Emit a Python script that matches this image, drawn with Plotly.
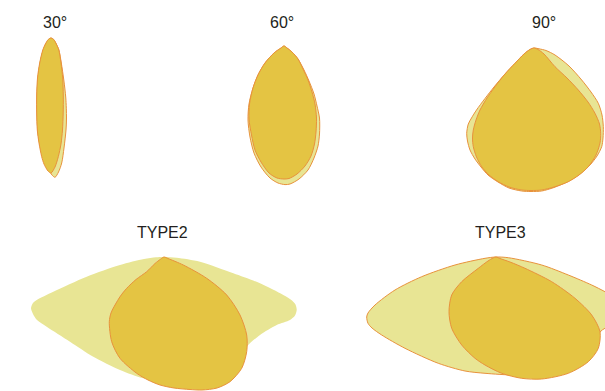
import plotly.graph_objects as go

# Beam outlines traced from the lamp point (apex) of each pattern.
# Units are screen pixels, x to the right, y downward.
titles = ["30°", "60°", "90°", "TYPE2", "TYPE3"]

beam30_pale = [(0, 0), (2.7, 1.5), (5.3, 6), (7.9, 12), (10.3, 25), (12.8, 42), (14.8, 60), (15.5, 80),
               (15, 92), (13, 110), (10.7, 125), (7.5, 134), (4, 139.3), (1, 137), (-2, 132), (-6, 124),
               (-10, 112), (-13, 95), (-14, 75), (-14, 55), (-12.5, 35), (-10, 20), (-6, 7), (-2, 1), (0, 0)]
beam30_gold = [(0, 0), (2.7, 1.5), (5.3, 6), (7.8, 12), (10, 25), (11.7, 40), (12.3, 58), (12.2, 75),
               (11.5, 92), (10, 106), (7.3, 118.7), (4, 129), (0, 135), (-3, 133), (-7, 126),
               (-9.3, 118.7), (-12, 105), (-13.7, 92), (-14.3, 75), (-14.3, 58), (-13.5, 40),
               (-11.3, 25), (-8.2, 12), (-5.5, 6), (-2.8, 1.5), (0, 0)]

beam60_pale = [(0, 0), (3, 2), (8, 6), (14, 13), (20, 24), (25, 35), (30, 48), (33, 60), (35.5, 72),
               (35.5, 88), (34, 100), (30, 112), (24, 124), (15, 133), (6, 138), (1, 138.6), (-6, 137),
               (-14, 132), (-23, 121), (-30, 107), (-34, 91), (-36, 74), (-35, 58), (-31, 42), (-26, 29),
               (-19, 17), (-10, 7), (-3, 2), (0, 0)]
beam60_gold = [(0, 0), (3, 2), (8, 6), (14, 13), (19, 23), (24, 34), (28, 46), (31, 58), (32.5, 72),
               (32, 86), (30.5, 98), (27, 110), (21, 120), (13, 128), (5, 132.5), (0, 133), (-7, 132),
               (-15, 127), (-23, 116), (-29, 104), (-32.5, 89), (-35, 73), (-34.5, 58), (-31, 42),
               (-26, 29), (-19, 17), (-10, 7), (-3, 2), (0, 0)]

beam90_pale = [(0, 0), (5, 0.8), (12, 2.5), (21, 7), (35, 18), (47.7, 32), (57, 44), (64.3, 55.3),
               (68, 67), (69.3, 78.7), (69, 90), (67.7, 98.7), (63, 108), (56, 117), (46, 126),
               (34, 133.5), (20, 139.5), (7.7, 143), (-3, 143.5), (-12.3, 143), (-25, 140), (-36, 134),
               (-46, 127), (-53, 119), (-59, 111), (-64, 102), (-66.5, 93), (-67.3, 85.3), (-65.7, 76),
               (-62.5, 70), (-57.5, 62), (-49, 50.5), (-40, 39), (-29, 26), (-19, 15.3), (-10, 6),
               (-4, 1.5), (0, 0)]
beam90_gold = [(0, 0), (4, 1.5), (10, 6), (21, 18.7), (33, 30), (44.3, 42), (54, 54), (61, 65.3),
               (65.5, 76), (66.7, 85.3), (66, 95), (62, 107), (54.3, 118.7), (45, 127), (34.3, 133.7),
               (20, 139), (7.7, 142), (-3, 142.5), (-12.3, 142), (-25, 139), (-35.7, 133.7), (-45, 127),
               (-52.3, 118.7), (-57.5, 109), (-60.7, 98.7), (-61.5, 90), (-60.7, 82), (-58, 72),
               (-54, 62), (-47, 50), (-39, 38.7), (-29, 26), (-19, 15.3), (-10, 6), (-4, 1.5), (0, 0)]

type2_pale = [(0, 0), (12.7, 0.7), (36, 4.7), (69.3, 16.3), (96, 26.3), (119.3, 38), (128, 43.5),
              (131.5, 47.5), (132.7, 53), (131, 58.5), (126, 63), (112.7, 68), (96, 78), (82.7, 89.7),
              (70, 110), (40, 124), (0, 124), (-20.7, 121.3), (-44, 113), (-70.7, 99.7), (-94, 84.7),
              (-117.3, 69.7), (-127, 63), (-131, 57), (-133, 51.3), (-131, 46), (-127.3, 43),
              (-110.7, 34.7), (-77.3, 19.7), (-44, 8), (-20, 2), (-8, 0.3), (0, 0)]
type2_gold = [(0, 0), (4, 1.5), (19.3, 8), (42.7, 21.3), (62.7, 38), (76, 58), (82.7, 78), (82.7, 94.7),
              (77.7, 111.3), (66, 124.7), (53, 131), (38, 133), (26, 132.5), (10, 131), (-4, 128),
              (-16, 123), (-27.3, 116.3), (-44, 101.3), (-52.3, 84.7), (-54.7, 64.7), (-53, 56),
              (-49, 48), (-43.5, 39), (-37.3, 31.3), (-28, 22.5), (-17.3, 14.7), (-9, 6.5),
              (-3.5, 2.2), (0, 0)]

type3_pale = [(0, 0), (12.3, 0.7), (45.7, 8), (72.3, 18), (95.7, 28), (109, 34.7), (122, 42), (128, 48),
              (130, 54), (128, 62), (120, 68), (109, 71.3), (104, 75), (90, 100), (60, 115), (20, 118),
              (-11, 116.3), (-31, 114), (-57.7, 106.3), (-91, 91.3), (-114.3, 78), (-124, 71),
              (-128, 66.3), (-129.3, 60), (-128, 56), (-121, 48), (-101, 33), (-74.3, 19.7), (-41, 8),
              (-11, 1.3), (0, 0)]
type3_gold = [(0, 0), (4, 1.5), (14, 5), (29, 11.3), (55.7, 24.7), (79, 41.3), (95.7, 58), (104, 74.7),
              (102.3, 91.3), (92.3, 104.7), (72.3, 116.3), (45.7, 122), (25.7, 121.3), (5.7, 116.3),
              (-11, 108), (-21, 101.3), (-34.3, 88), (-44.3, 71.3), (-47, 54.7), (-44.3, 38),
              (-34.3, 24.7), (-17.7, 11.3), (-8, 4), (-3, 1), (0, 0)]

# layout: apex of each pattern and centre of its title
apex = [(51, 38), (284, 46), (534, 48), (164, 257), (496, 257)]
title_pos = [(55, 22.5), (282, 22.5), (544, 22.5), (162, 232.5), (500, 232.5)]

PALE = '#E8E594'
GOLD = '#E4C443'
EDGE = '#E8923C'

patterns = [
    (beam30_pale, beam30_gold, True),
    (beam60_pale, beam60_gold, True),
    (beam90_pale, beam90_gold, True),
    (type2_pale, type2_gold, False),
    (type3_pale, type3_gold, True),
]


def outline(points, origin, fill, edge):
    ox, oy = origin
    return go.Scatter(
        x=[ox + p[0] for p in points],
        y=[oy + p[1] for p in points],
        mode='lines',
        line=dict(color=edge if edge else fill, width=1 if edge else 0,
                  shape='spline', smoothing=0.8),
        fill='toself',
        fillcolor=fill,
        hoverinfo='skip',
        showlegend=False,
    )


fig = go.Figure()
for (pale, gold, pale_edge), origin in zip(patterns, apex):
    fig.add_trace(outline(pale, origin, PALE, EDGE if pale_edge else None))
    fig.add_trace(outline(gold, origin, GOLD, EDGE))

for text, (tx, ty) in zip(titles, title_pos):
    fig.add_annotation(x=tx, y=ty, text=text, showarrow=False,
                       xanchor='center', yanchor='middle',
                       font=dict(family='Liberation Sans, Arial', size=16, color='#231F20'))

fig.update_xaxes(range=[0, 605], visible=False, fixedrange=True)
fig.update_yaxes(range=[391, 0], visible=False, fixedrange=True)
fig.update_layout(
    width=605, height=391,
    margin=dict(l=0, r=0, t=0, b=0),
    paper_bgcolor='white', plot_bgcolor='white',
)

# drop the browser's default body margin so the figure sits at the page corner
fig.write_html("out.html", config={'displayModeBar': False},
               post_script="document.body.style.margin='0';")
